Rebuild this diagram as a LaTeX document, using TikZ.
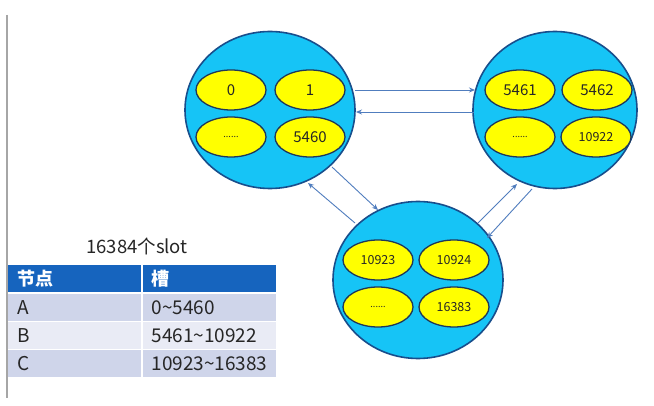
\documentclass[tikz,border=0pt]{standalone}
\usepackage{fontspec}
\setmainfont{Noto Sans CJK SC}
\usetikzlibrary{shapes.geometric,arrows.meta}
\definecolor{cfill}{RGB}{22,196,246}
\definecolor{cedge}{RGB}{24,78,140}
\definecolor{yfill}{RGB}{255,255,0}
\definecolor{yedge}{RGB}{30,55,90}
\definecolor{arr}{RGB}{80,125,190}
\definecolor{hdr}{RGB}{22,100,190}
\definecolor{rowd}{RGB}{207,213,234}
\definecolor{rowl}{RGB}{233,235,245}
\tikzset{
  server/.style={ellipse, draw=cedge, line width=1.6pt, fill=cfill, minimum width=170pt, minimum height=157pt, inner sep=0pt},
  slotbox/.style={ellipse, draw=yedge, line width=1.3pt, fill=yfill, minimum width=70pt, minimum height=40pt, inner sep=0pt, text=black!85},
  bignum/.style={font=\fontsize{15}{15}\selectfont},
  smallnum/.style={font=\fontsize{12.5}{12.5}\selectfont},
  dots/.style={font=\fontsize{9}{9}\selectfont},
  link/.style={draw=arr, line width=0.9pt, -{Stealth[length=6pt,width=5pt]}},
  cellbox/.style={minimum height=27pt, inner sep=0pt, anchor=north west, text depth=0pt},
  celltext/.style={font=\fontsize{19}{19}\selectfont, anchor=west, text=black!85},
}
\begin{document}
\begin{tikzpicture}[x=1pt,y=-1pt]
\useasboundingbox (0,0) rectangle (654,406);
\fill[white] (0,0) rectangle (654,406);
\draw[gray!70, line width=1.2pt] (7,15) -- (7,398);

% servers
\node[server] (A) at (270,110) {};
\node[server, minimum width=164pt] (B) at (555,110) {};
\node[server] (C) at (418,280) {};

% slots A
\node[slotbox, bignum] (a1) at (231,90) {0};
\node[slotbox, bignum] (a2) at (310,90) {1};
\node[slotbox, dots] (a3) at (231,137) {......};
\node[slotbox, bignum] (a4) at (310,137) {5460};
% slots B
\node[slotbox, bignum] (b1) at (520,90) {5461};
\node[slotbox, bignum] (b2) at (597,90) {5462};
\node[slotbox, dots] (b3) at (520,137) {......};
\node[slotbox, smallnum] (b4) at (596,137) {10922};
% slots C
\node[slotbox, smallnum] (c1) at (378,260) {10923};
\node[slotbox, smallnum] (c2) at (454,260) {10924};
\node[slotbox, dots] (c3) at (378,307) {......};
\node[slotbox, smallnum] (c4) at (454,307) {16383};

% connector end points
\coordinate (ab1) at (355,90);  \coordinate (ab2) at (475,90);
\coordinate (ba1) at (474,112); \coordinate (ba2) at (356,112);
\coordinate (ac1) at (332,167); \coordinate (ac2) at (378,210);
\coordinate (ca1) at (355,223); \coordinate (ca2) at (308,183);
\coordinate (cb1) at (478,223); \coordinate (cb2) at (517,184);
\coordinate (bc1) at (532,189); \coordinate (bc2) at (487,238);
\draw[link] (ab1) -- (ab2);
\draw[link] (ba1) -- (ba2);
\draw[link] (ac1) -- (ac2);
\draw[link] (ca1) -- (ca2);
\draw[link] (cb1) -- (cb2);
\draw[link] (bc1) -- (bc2);

% table
\node[font=\fontsize{18.5}{18.5}\selectfont, text=black!85] (title) at (137,246) {16384个slot};
\node[cellbox, fill=hdr, minimum width=133pt] (h1) at (8,265) {};
\node[cellbox, fill=hdr, minimum width=133pt] (h2) at (143,265) {};
\node[cellbox, fill=rowd, minimum width=133pt] (r1a) at (8,294) {};
\node[cellbox, fill=rowd, minimum width=133pt] (r1b) at (143,294) {};
\node[cellbox, fill=rowl, minimum width=133pt] (r2a) at (8,322) {};
\node[cellbox, fill=rowl, minimum width=133pt] (r2b) at (143,322) {};
\node[cellbox, fill=rowd, minimum width=133pt] (r3a) at (8,350) {};
\node[cellbox, fill=rowd, minimum width=133pt] (r3b) at (143,350) {};

\node[celltext, text=white, font=\bfseries\fontsize{18}{18}\selectfont] at ([xshift=6pt]h1.west) {节点};
\node[celltext, text=white, font=\bfseries\fontsize{18}{18}\selectfont] at ([xshift=5pt]h2.west) {槽};
\node[celltext] at ([xshift=6pt]r1a.west) {A};
\node[celltext] at ([xshift=5pt]r1b.west) {0\textasciitilde5460};
\node[celltext] at ([xshift=6pt]r2a.west) {B};
\node[celltext] at ([xshift=5pt]r2b.west) {5461\textasciitilde10922};
\node[celltext] at ([xshift=6pt]r3a.west) {C};
\node[celltext] at ([xshift=5pt]r3b.west) {10923\textasciitilde16383};
\end{tikzpicture}
\end{document}
